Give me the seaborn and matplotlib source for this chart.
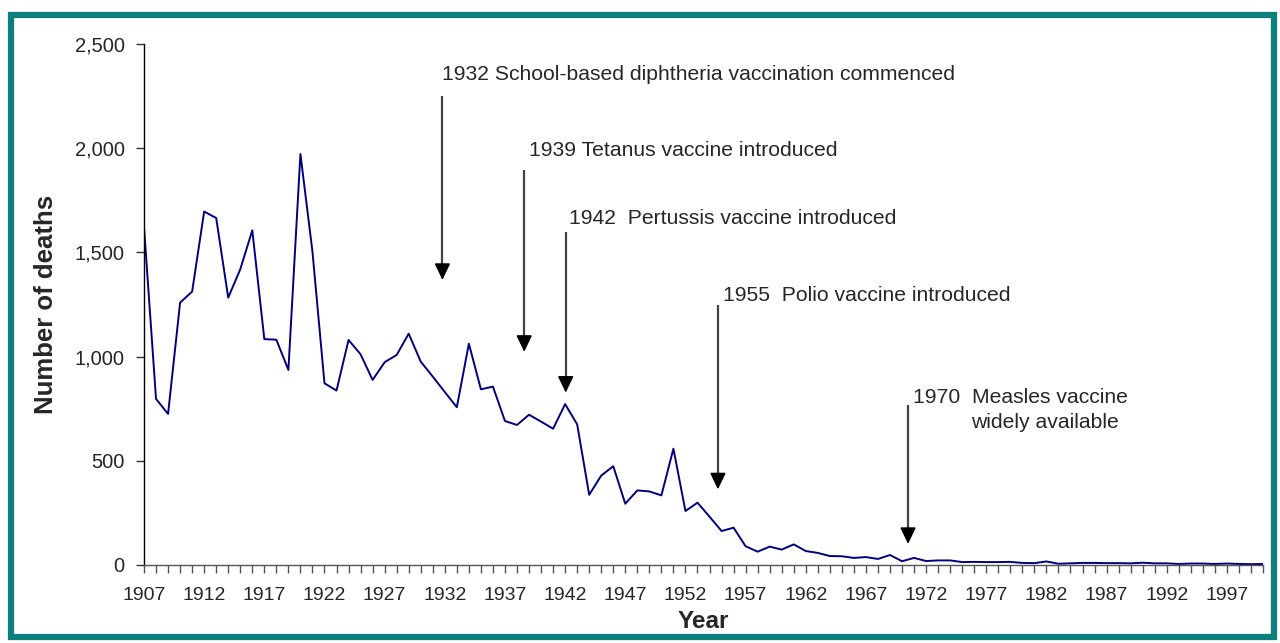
import matplotlib
matplotlib.use("Agg")
import matplotlib.pyplot as plt
import matplotlib.ticker as mticker
from matplotlib.patches import Rectangle
import seaborn as sns
import pandas as pd

years = list(range(1907, 2001))
deaths = [
    1623, 797, 725, 1259, 1312, 1696, 1665, 1283, 1419, 1606,   # 1907-1916
    1084, 1081, 936, 1972, 1504, 872, 837, 1080, 1011, 888,     # 1917-1926
    973, 1008, 1110, 976, 904, 830, 757, 1062, 843, 856,        # 1927-1936
    691, 672, 721, 688, 654, 772, 675, 337, 429, 474,           # 1937-1946
    294, 358, 353, 334, 558, 259, 299, 232, 163, 179,           # 1947-1956
    90, 64, 88, 74, 99, 67, 58, 43, 42, 34,                     # 1957-1966
    38, 29, 48, 18, 34, 19, 22, 22, 14, 15,                     # 1967-1976
    14, 14, 15, 10, 9, 17, 6, 8, 10, 10,                        # 1977-1986
    9, 9, 8, 11, 8, 8, 5, 7, 7, 5,                              # 1987-1996
    7, 5, 4, 5,                                                 # 1997-2000
]
tick_label_years = list(range(1907, 2000, 5))

annotations = [
    # (text, arrow x (year), arrow top, arrow tip, text x, text y)
    ("1932 School-based diphtheria vaccination commenced", 1931.8, 2250, 1368, 1931.8, 2355),
    ("1939 Tetanus vaccine introduced", 1938.6, 1895, 1023, 1939.0, 1990),
    ("1942  Pertussis vaccine introduced", 1942.05, 1598, 827, 1942.3, 1665),
    ("1955  Polio vaccine introduced", 1954.7, 1248, 363, 1955.1, 1295),
]

df = pd.DataFrame({"Year": years, "Deaths": deaths})

sns.set_style("white")
plt.rcParams["font.family"] = ["Liberation Sans", "DejaVu Sans"]

fig = plt.figure(figsize=(12.8, 6.43), dpi=100)
ax = fig.add_axes([144 / 1280, 1 - 565 / 643, (1263 - 144) / 1280, (565 - 44) / 643])

sns.lineplot(data=df, x="Year", y="Deaths", ax=ax, color="#000080", linewidth=1.4)

ax.set_xlim(1907, 2000)
ax.set_ylim(0, 2500)
ax.xaxis.set_major_locator(mticker.FixedLocator(tick_label_years))
ax.xaxis.set_minor_locator(mticker.FixedLocator(years))
ax.set_xticklabels([str(y) for y in tick_label_years])
ax.yaxis.set_major_locator(mticker.MultipleLocator(500))
ax.yaxis.set_major_formatter(mticker.FuncFormatter(lambda v, p: f"{int(v):,}"))
ax.tick_params(axis="x", which="both", direction="out", length=6, width=1,
               color="#555555", labelsize=14, pad=10, bottom=True)
ax.tick_params(axis="y", direction="out", length=6, width=1, color="#333333",
               labelsize=14.5, pad=8, left=True)
for s in ["top", "right"]:
    ax.spines[s].set_visible(False)
for s in ["left", "bottom"]:
    ax.spines[s].set_color("black")
    ax.spines[s].set_linewidth(1.0)
ax.spines["bottom"].set_color("#555555")

ax.set_xlabel("Year", fontsize=17.5, fontweight="bold")
ax.set_ylabel("Number of deaths", fontsize=18.5, fontweight="bold")
ax.xaxis.set_label_coords((703 - 144) / 1119, -(610 - 565) / 521)
ax.yaxis.set_label_coords(-(144 - 58) / 1119, 0.5)

def arrow(x, ytop, ytip):
    ax.annotate("", xy=(x, ytip), xytext=(x, ytip + 75),
                arrowprops=dict(arrowstyle="-|>,head_length=1.0,head_width=0.48",
                                color="black", lw=1.2, shrinkA=0, shrinkB=0),
                annotation_clip=False)
    ax.plot([x, x], [ytop, ytip + 60], color="#444444", lw=1.6, solid_capstyle="butt")

for text, ax_x, ytop, ytip, tx, ty in annotations:
    arrow(ax_x, ytop, ytip)
    ax.text(tx, ty, text, fontsize=15.2, ha="left", va="center")

arrow(1970.5, 768, 101)
ax.text(1970.9, 805, "1970  Measles vaccine", fontsize=15.2, ha="left", va="center")
ax.text(1975.7, 683, "widely available", fontsize=15.2, ha="left", va="center")

fig.patches.append(Rectangle((11 / 1280, 6 / 643), 1 - 17 / 1280, 1 - 20.5 / 643,
                             transform=fig.transFigure, fill=False,
                             edgecolor="#0A7F7B", linewidth=4.5))

fig.savefig("out.png", dpi=100, facecolor="white")
